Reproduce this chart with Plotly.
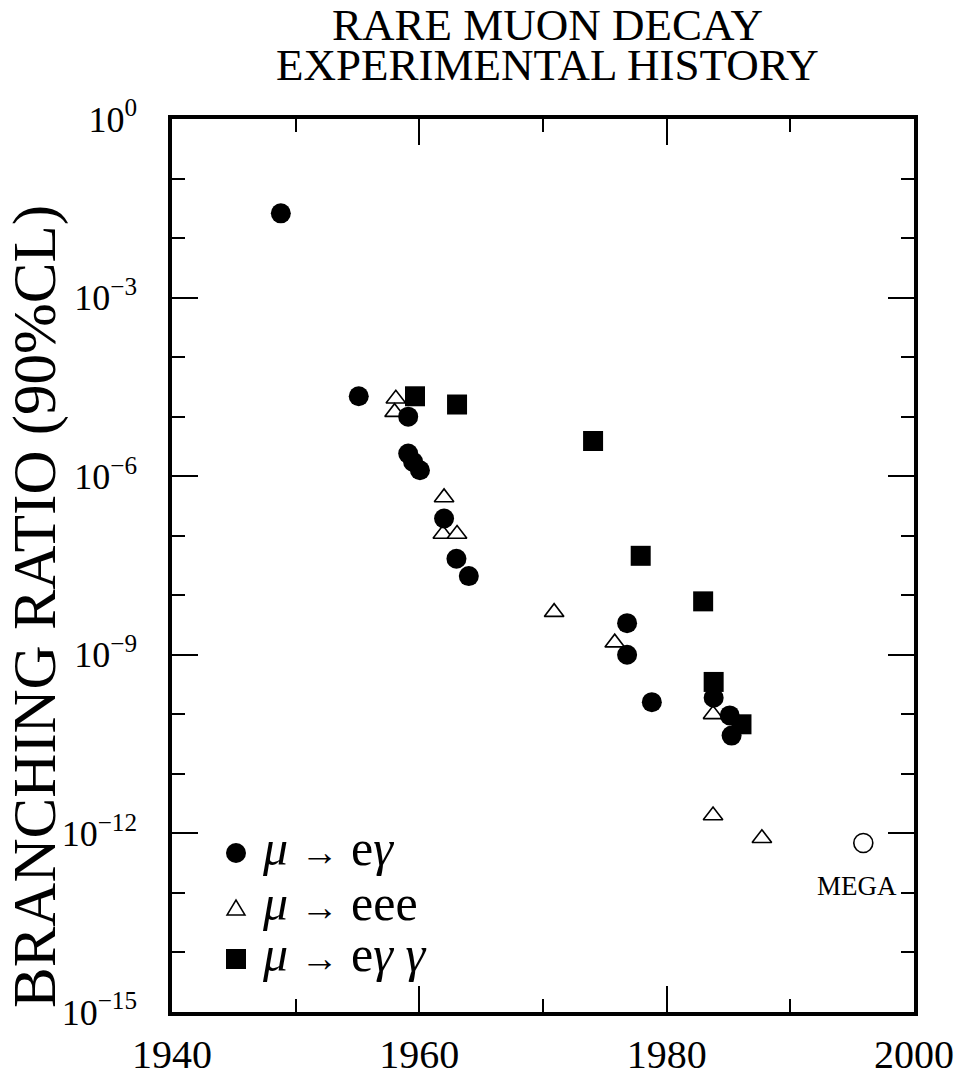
import plotly.graph_objects as go

# mu -> e gamma upper limits (year, branching ratio, 90% CL)
megamma_year = [1948.8, 1955.1, 1959.1, 1959.1, 1959.5, 1960.05, 1962.0, 1963.0,
                1964.0, 1976.8, 1976.8, 1978.8, 1983.8, 1985.1, 1985.25]
megamma_br = [2.6e-2, 2.2e-5, 1.0e-5, 2.4e-6, 1.74e-6, 1.26e-6, 1.95e-7, 4.1e-8,
              2.1e-8, 3.4e-9, 1.0e-9, 1.6e-10, 1.9e-10, 9.6e-11, 4.4e-11]

# mu -> eee upper limits
meee_year = [1958.1, 1958.0, 1962.0, 1961.9, 1963.05, 1970.9, 1975.8, 1983.75,
             1983.75, 1987.7]
meee_br = [2.0e-5, 1.19e-5, 4.4e-7, 1.07e-7, 1.07e-7, 5.2e-9, 1.6e-9, 1.0e-10,
           2.0e-12, 8.3e-13]

# mu -> e gamma gamma upper limits
megg_year = [1959.65, 1963.05, 1974.05, 1977.9, 1982.95, 1983.8, 1986.05]
megg_br = [2.2e-5, 1.6e-5, 3.9e-6, 4.6e-8, 7.9e-9, 3.5e-10, 6.8e-11]

# MEGA projected sensitivity
mega_year = [1995.9]
mega_br = [6.9e-13]
mega_label = "MEGA"

title_lines = ["RARE MUON DECAY", "EXPERIMENTAL HISTORY"]
y_title = "BRANCHING RATIO (90%CL)"
x_tickvals = [1940, 1960, 1980, 2000]
x_ticktext = ["1940", "1960", "1980", "2000"]
y_tickvals = [1, 1e-3, 1e-6, 1e-9, 1e-12, 1e-15]
y_ticktext = ["10<sup>0</sup>", "10<sup>\u22123</sup>", "10<sup>\u22126</sup>",
              "10<sup>\u22129</sup>", "10<sup>\u221212</sup>", "10<sup>\u221215</sup>"]
ARROW = "<span style='font-size:38px'>\u2192</span>"
legend_labels = [
    "<i>\u03bc</i> " + ARROW + " e<i>\u03b3</i>",
    "<i>\u03bc</i> " + ARROW + " eee",
    "<i>\u03bc</i> " + ARROW + " e<i>\u03b3 \u03b3</i>",
]

SERIF = "Liberation Serif, Times New Roman, serif"
INK = "black"

fig = go.Figure()

fig.add_trace(go.Scatter(
    x=meee_year, y=meee_br, mode="markers", name="mu->eee",
    marker=dict(symbol="triangle-up", size=17, color="white",
                line=dict(color=INK, width=1.6)),
))
fig.add_trace(go.Scatter(
    x=megamma_year, y=megamma_br, mode="markers", name="mu->e gamma",
    marker=dict(symbol="circle", size=20, color=INK, line=dict(width=0)),
))
fig.add_trace(go.Scatter(
    x=megg_year, y=megg_br, mode="markers", name="mu->e gamma gamma",
    marker=dict(symbol="square", size=20, color=INK, line=dict(width=0)),
))
fig.add_trace(go.Scatter(
    x=mega_year, y=mega_br, mode="markers", name="MEGA",
    marker=dict(symbol="circle-open", size=19, color=INK, line=dict(width=1.6)),
))

# plot-area geometry in pixels (for placing the hand-drawn key and labels)
L, R, T, B = 172, 914, 119, 1012
W, H = R - L, B - T


def px(xp):
    return (xp - L) / W


def py(yp):
    return (B - yp) / H


def note(text, x, y, size, **kw):
    opts = dict(xref="paper", yref="paper", xanchor="center", yanchor="middle",
                showarrow=False, text=text,
                font=dict(family=SERIF, size=size, color=INK))
    opts.update(kw)
    fig.add_annotation(x=x, y=y, **opts)


# key symbols
key_x = px(236)
key_y = [py(853), py(908), py(959)]
fig.add_shape(type="circle", xref="paper", yref="paper", xsizemode="pixel",
              ysizemode="pixel", xanchor=key_x, yanchor=key_y[0],
              x0=-10, x1=10, y0=-10, y1=10, fillcolor=INK, line=dict(width=0))
fig.add_shape(type="path", xref="paper", yref="paper", xsizemode="pixel",
              ysizemode="pixel", xanchor=key_x, yanchor=key_y[1],
              path="M-9,-7 L9,-7 L0,8 Z", fillcolor="white",
              line=dict(color=INK, width=1.5))
fig.add_shape(type="rect", xref="paper", yref="paper", xsizemode="pixel",
              ysizemode="pixel", xanchor=key_x, yanchor=key_y[2],
              x0=-10, x1=10, y0=-10, y1=10, fillcolor=INK, line=dict(width=0))

for lab, yk in zip(legend_labels, key_y):
    note(lab, px(260), yk + 5 / H, 50, xanchor="left")

note(mega_label, px(857), py(886), 27)

# two-line heading
note(title_lines[0], px(547), py(25), 45)
note(title_lines[1], px(547), py(65), 45)

# vertical axis title
note(y_title, px(35), py(607), 61, textangle=-90)

fig.update_xaxes(
    range=[1940, 2000], tickvals=x_tickvals, ticktext=x_ticktext,
    ticks="inside", ticklen=26, tickwidth=1.5, tickcolor=INK,
    minor=dict(dtick=10, ticks="inside", ticklen=13, tickwidth=1.5, tickcolor=INK),
    showline=True, linewidth=3.5, linecolor=INK, mirror="allticks",
    showgrid=False, zeroline=False, ticklabelstandoff=4,
    tickfont=dict(family=SERIF, size=40, color=INK),
)
fig.update_yaxes(
    type="log", range=[-15, 0], tickvals=y_tickvals, ticktext=y_ticktext,
    ticks="inside", ticklen=26, tickwidth=1.5, tickcolor=INK,
    minor=dict(dtick=1, ticks="inside", ticklen=13, tickwidth=1.5, tickcolor=INK),
    showline=True, linewidth=3.5, linecolor=INK, mirror="allticks",
    showgrid=False, zeroline=False, ticklabelstandoff=24,
    tickfont=dict(family=SERIF, size=36, color=INK),
)

fig.update_layout(
    width=971, height=1088,
    margin=dict(l=L, r=971 - R, t=T, b=1088 - B, pad=0),
    paper_bgcolor="white", plot_bgcolor="white",
    showlegend=False,
)

fig.write_html("out.html")
